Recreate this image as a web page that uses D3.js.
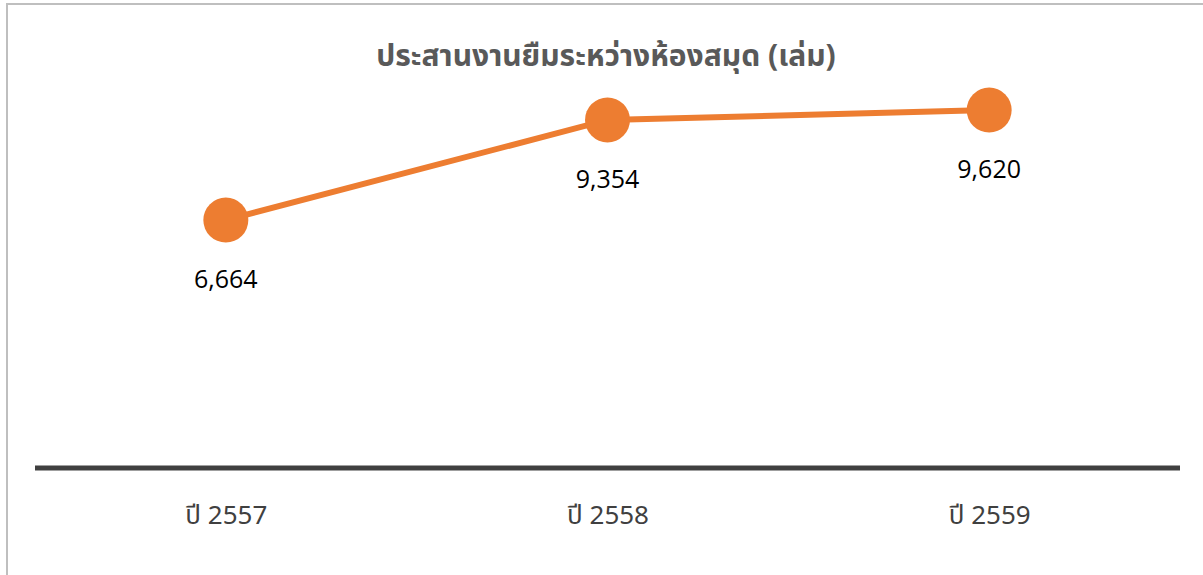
<!DOCTYPE html>
<html>
<head>
<meta charset="utf-8">
<script src="https://cdn.jsdelivr.net/npm/d3@7"></script>
<style>
  html, body { margin: 0; padding: 0; background: #fff; }
  svg { display: block; }
</style>
</head>
<body>
<svg id="chart" width="1203" height="575"></svg>
<script>
const title = "ประสานงานยืมระหว่างห้องสมุด (เล่ม)";
const categories = ["ปี 2557", "ปี 2558", "ปี 2559"];
const values = [6664, 9354, 9620];
const yDomain = [0, 12000];

const W = 1203, H = 575;
const svg = d3.select("#chart");

// chart border
svg.append("rect")
  .attr("x", 7).attr("y", 4)
  .attr("width", W + 10).attr("height", H + 10)
  .attr("fill", "none").attr("stroke", "#bfbfbf").attr("stroke-width", 2);

const x = d3.scalePoint().domain(categories).range([35, 1180]).padding(0.5);
const y = d3.scaleLinear().domain(yDomain).range([468, 21.5]);

// title
svg.append("text")
  .attr("x", 606).attr("y", 66)
  .attr("text-anchor", "middle")
  .attr("font-family", "'Noto Sans', 'Noto Sans Thai', sans-serif")
  .attr("font-weight", "bold")
  .attr("font-size", 30)
  .attr("fill", "#595959")
  .text(title);

// x axis
const xAxis = d3.axisBottom(x).tickSize(0).tickPadding(0);
const gx = svg.append("g").attr("transform", `translate(0,${y(0)})`).call(xAxis);
gx.select(".domain").remove();
gx.append("line")
  .attr("x1", 35).attr("x2", 1180).attr("y1", 0).attr("y2", 0)
  .attr("stroke", "#404040").attr("stroke-width", 5);
gx.selectAll(".tick text")
  .attr("y", 56)
  .attr("dy", 0)
  .attr("font-family", "'Noto Sans', 'Noto Sans Thai', sans-serif")
  .attr("font-size", 26)
  .attr("fill", "#404040");

const data = categories.map((c, i) => ({ c, v: values[i] }));

// line
svg.append("path")
  .datum(data)
  .attr("fill", "none")
  .attr("stroke", "#ED7D31")
  .attr("stroke-width", 6)
  .attr("stroke-linecap", "round")
  .attr("d", d3.line().x(d => x(d.c)).y(d => y(d.v)));

// markers
svg.selectAll("circle.pt")
  .data(data).join("circle")
  .attr("class", "pt")
  .attr("cx", d => x(d.c)).attr("cy", d => y(d.v))
  .attr("r", 22.5)
  .attr("fill", "#ED7D31");

// data labels
const fmt = d3.format(",");
svg.selectAll("text.lbl")
  .data(data).join("text")
  .attr("class", "lbl")
  .attr("x", d => x(d.c)).attr("y", d => y(d.v) + 68)
  .attr("text-anchor", "middle")
  .attr("font-family", "'Open Sans', 'Noto Sans', sans-serif")
  .attr("font-size", 25)
  .attr("fill", "#000")
  .text(d => fmt(d.v));
</script>
</body>
</html>
